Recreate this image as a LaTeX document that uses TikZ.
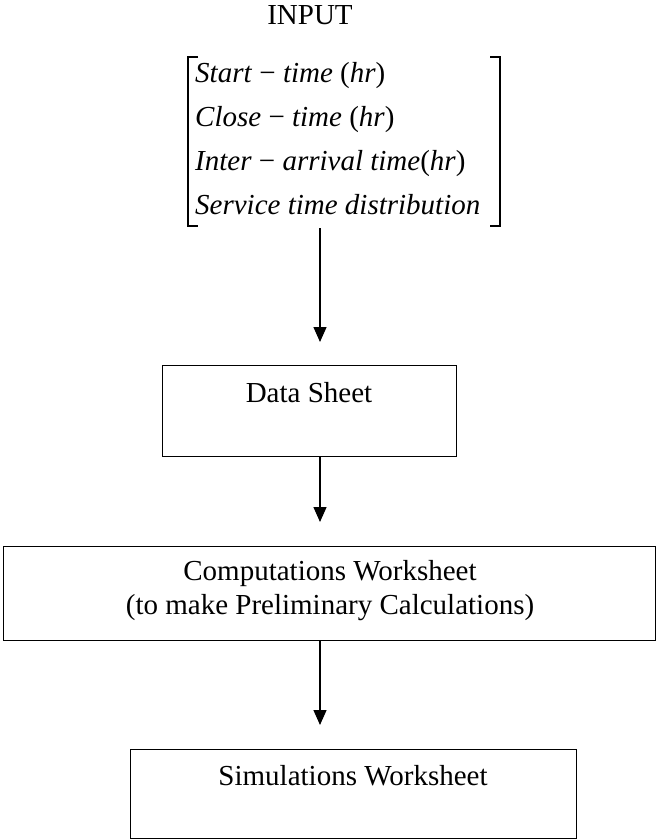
\documentclass[tikz,border=0pt]{standalone}
\usepackage{fontspec}
\setmainfont{Liberation Serif}
\usetikzlibrary{arrows.meta}
\tikzset{
  lbl/.style={font=\fontsize{29}{34}\selectfont, inner sep=0pt},
  boxframe/.style={draw, line width=1.3pt, inner sep=0pt, anchor=north west},
  flow/.style={line width=1.3pt, -{Triangle[length=15pt,width=13pt]}},
  brk/.style={line width=1.1pt}
}
\begin{document}
\begin{tikzpicture}[x=1pt,y=-1pt]
\useasboundingbox (0,0) rectangle (658,840);
% INPUT
\node[lbl] (input) at (310,15) {INPUT};
% matrix lines
\node[lbl, anchor=base west] (r1) at (195,83) {\textit{Start} − \textit{time} (\textit{hr})};
\node[lbl, anchor=base west] (r2) at (195,126) {\textit{Close} − \textit{time} (\textit{hr})};
\node[lbl, anchor=base west] (r3) at (195,170) {\textit{Inter} − \textit{arrival time}(\textit{hr})};
\node[lbl, anchor=base west] (r4) at (195,214) {\textit{Service time distribution}};
% brackets
\coordinate (bl1) at (188,57);
\coordinate (bl2) at (188,226);
\coordinate (br1) at (500,57);
\coordinate (br2) at (500,226);
\draw[brk] ([xshift=10pt]bl1) -- (bl1) -- (bl2) -- ([xshift=10pt]bl2);
\draw[brk] ([xshift=-10pt]br1) -- (br1) -- (br2) -- ([xshift=-10pt]br2);
% boxes
\node[boxframe, minimum width=294pt, minimum height=91pt] (ds) at (162,365) {};
\node[lbl, anchor=base] (dst) at (309,402) {Data Sheet};
\node[boxframe, minimum width=652pt, minimum height=94pt] (cw) at (3,546) {};
\node[lbl, anchor=base] (cwt1) at (330,580) {Computations Worksheet};
\node[lbl, anchor=base] (cwt2) at (330,614) {(to make Preliminary Calculations)};
\node[boxframe, minimum width=446pt, minimum height=89pt] (sw) at (130,749) {};
\node[lbl, anchor=base] (swt) at (353,785) {Simulations Worksheet};
% arrows
\coordinate (a1s) at (320,228);
\coordinate (a1e) at (320,342);
\draw[flow] (a1s) -- (a1e);
\draw[flow, shorten >=24pt] (ds.south -| a1s) -- (cw.north -| a1s);
\draw[flow, shorten >=24pt] (cw.south -| a1s) -- (sw.north -| a1s);
\end{tikzpicture}
\end{document}
